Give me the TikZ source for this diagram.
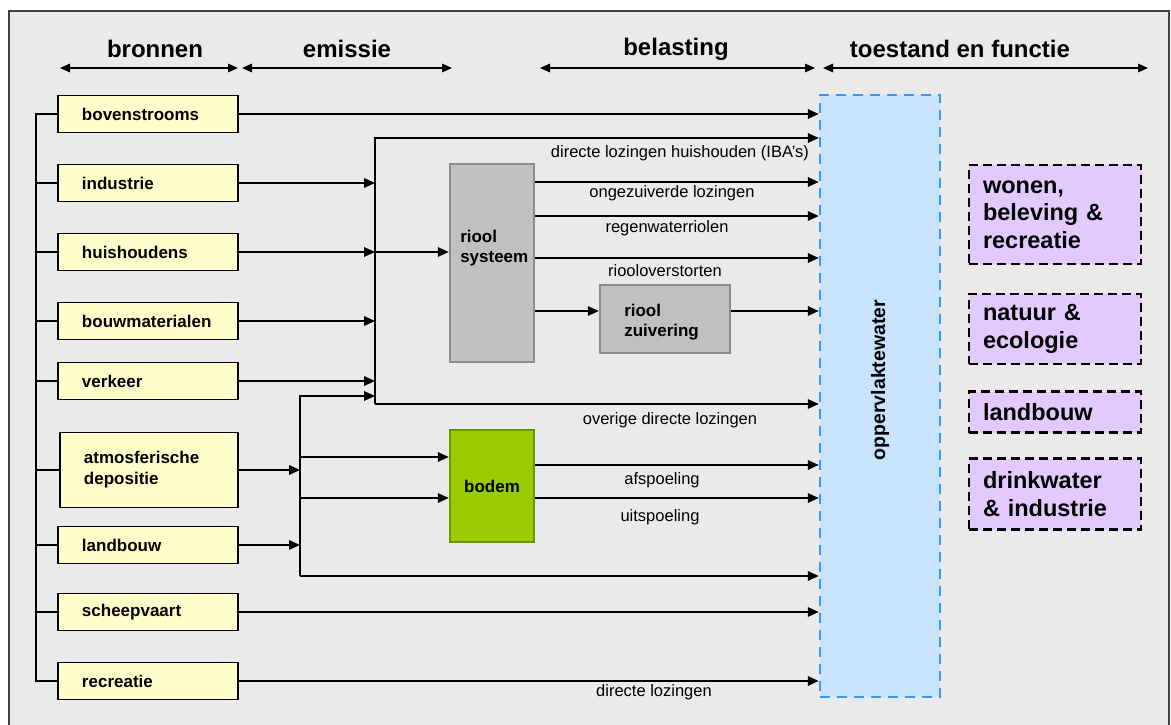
\documentclass[tikz,border=0pt]{standalone}
\usepackage{fontspec}
\setmainfont{Liberation Sans}
\usetikzlibrary{arrows.meta}
\definecolor{bgfill}{HTML}{EAEAEA}
\definecolor{srcfill}{HTML}{FFFFCC}
\definecolor{sewfill}{HTML}{C0C0C0}
\definecolor{sewdraw}{HTML}{8C8C8C}
\definecolor{soilfill}{HTML}{99CC00}
\definecolor{soildraw}{HTML}{669900}
\definecolor{waterfill}{HTML}{C8E3FD}
\definecolor{waterdraw}{HTML}{3399FF}
\definecolor{fnfill}{HTML}{E2CAFE}
\begin{document}
\begin{tikzpicture}[x=1bp,y=-1bp,
  font=\fontsize{16.5bp}{19bp}\selectfont,
  src/.style={draw=black,line width=1.8bp,fill=srcfill,minimum height=37bp,
    text width=132bp,inner xsep=24bp,inner ysep=0pt,align=left,
    font=\fontsize{17bp}{21bp}\selectfont\bfseries},
  proc/.style={line width=2.5bp,inner sep=0pt,
    font=\fontsize{17bp}{20bp}\selectfont\bfseries},
  fn/.style={draw=black,line width=2.5bp,dash pattern=on 9bp off 5bp,fill=fnfill,
    text width=144bp,inner xsep=14bp,inner ysep=0pt,align=left,
    font=\fontsize{23.5bp}{27.5bp}\selectfont\bfseries},
  head/.style={font=\fontsize{24bp}{27bp}\selectfont\bfseries},
  lbl/.style={inner sep=0pt},
  ln/.style={line width=1.8bp},
  arr/.style={line width=1.8bp,-{Triangle[length=11bp,width=9.5bp]}},
  span/.style={line width=1.5bp,{Triangle[length=10bp,width=8.5bp]}-{Triangle[length=10bp,width=8.5bp]}}
]
\useasboundingbox (0,0) rectangle (1171,725);
% panel
\fill[white] (0,0) rectangle (1171,725);
\draw[fill=bgfill,draw=black!75,line width=1.5bp] (9,11) rectangle (1169,740);

% column headings and their spans
\node[head] (hb) at (155,49) {bronnen};
\node[head] (he) at (347,49) {emissie};
\node[head] (hl) at (676,49) {belasting};
\node[head] (ht) at (960,49) {toestand en functie};
\coordinate (s1a) at (60,68);  \coordinate (s1b) at (238,68);
\coordinate (s2a) at (242,68); \coordinate (s2b) at (452,68);
\coordinate (s3a) at (540,68); \coordinate (s3b) at (815,68);
\coordinate (s4a) at (823,68); \coordinate (s4b) at (1148,68);
\draw[span] (s1a) -- (s1b);
\draw[span] (s2a) -- (s2b);
\draw[span] (s3a) -- (s3b);
\draw[span] (s4a) -- (s4b);

% sources
\node[src] (bov) at (148,114) {bovenstrooms};
\node[src] (ind) at (148,183) {industrie};
\node[src] (hh)  at (148,252) {huishoudens};
\node[src] (bm)  at (148,321) {bouwmaterialen};
\node[src] (vk)  at (148,381) {verkeer};
\node[src,minimum height=75bp,text width=130bp] (atm) at (149,470) {atmosferische\\depositie};
\node[src] (lb)  at (148,545) {landbouw};
\node[src] (sv)  at (148,612) {scheepvaart};
\node[src] (rc)  at (148,681) {recreatie};

% surface water
\node[draw=waterdraw,fill=waterfill,line width=2.5bp,dash pattern=on 10bp off 7bp,
  minimum width=120bp,minimum height=602bp,inner sep=0pt] (ow) at (880,396) {};
\node[rotate=90,font=\fontsize{19.5bp}{22bp}\selectfont\bfseries] (owt) at (880,380) {oppervlaktewater};

% sewer, treatment plant, soil
\node[proc,draw=sewdraw,fill=sewfill,minimum width=84bp,minimum height=198bp] (ri) at (492,263) {};
\node[proc,anchor=west,align=left] (rit) at (459,248) {riool\\systeem};
\node[proc,draw=sewdraw,fill=sewfill,minimum width=130bp,minimum height=68bp] (rz) at (665,319) {};
\node[proc,anchor=west,align=left] (rzt) at (623,322) {riool\\zuivering};
\node[proc,draw=soildraw,fill=soilfill,minimum width=84bp,minimum height=112bp] (bo) at (492,486) {};
\node[proc] (bot) at (492,486) {bodem};

% functions
\node[fn,minimum height=99bp] (f1) at (1055,214.5) {wonen,\\beleving \&\\recreatie};
\node[fn,minimum height=70bp] (f2) at (1055,329) {natuur \&\\ecologie};
\node[fn,minimum height=41bp] (f3) at (1055,412) {landbouw};
\node[fn,minimum height=71bp] (f4) at (1055,494) {drinkwater\\\& industrie};

% collector on the left
\coordinate (busL) at (36,0);
\draw[ln] (bov.west) -- (bov.west -| busL) -- (rc.west -| busL) -- (rc.west);
\foreach \n in {ind,hh,bm,vk,atm,lb,sv}
  \draw[ln] (\n.west) -- (\n.west -| busL);

% emission collectors
\coordinate (busA) at (375,0);
\coordinate (topA) at (375,138);
\coordinate (botA) at (375,404);
\coordinate (busB) at (300,0);
\coordinate (topB) at (300,396);
\coordinate (botB) at (300,576);
\coordinate (sb1) at (300,457);
\coordinate (sb2) at (300,498);

\draw[arr] (bov.east) -- (bov.east -| ow.west);
\draw[arr] (botA) -- (topA) -- (topA -| ow.west);
\draw[arr] (botA) -- (botA -| ow.west);
\draw[arr] (ind.east) -- (ind.east -| busA);
\draw[arr] (hh.east) -- (hh.east -| busA);
\draw[arr] (hh.east -| busA) -- (hh.east -| ri.west);
\draw[arr] (bm.east) -- (bm.east -| busA);
\draw[arr] (vk.east) -- (vk.east -| busA);

\draw[arr] (botB) -- (topB) -- (topB -| busA);
\draw[arr] (botB) -- (botB -| ow.west);
\draw[arr] (atm.east) -- (atm.east -| busB);
\draw[arr] (lb.east) -- (lb.east -| busB);
\draw[arr] (sb1) -- (sb1 -| bo.west);
\draw[arr] (sb2) -- (sb2 -| bo.west);

% loads from the sewer
\draw[arr] (ri.east |- 0,182) -- (ow.west |- 0,182);
\draw[arr] (ri.east |- 0,216) -- (ow.west |- 0,216);
\draw[arr] (ri.east |- 0,258) -- (ow.west |- 0,258);
\draw[arr] (ri.east |- 0,311) -- (rz.west |- 0,311);
\draw[arr] (rz.east |- 0,311) -- (ow.west |- 0,311);

% loads from the soil
\draw[arr] (bo.east |- 0,465) -- (ow.west |- 0,465);
\draw[arr] (bo.east |- 0,498) -- (ow.west |- 0,498);

\draw[arr] (sv.east) -- (sv.east -| ow.west);
\draw[arr] (rc.east) -- (rc.east -| ow.west);

% flow labels
\node[lbl] (l1) at (680,153) {directe lozingen huishouden (IBA’s)};
\node[lbl] (l2) at (672,193) {ongezuiverde lozingen};
\node[lbl] (l3) at (667,228) {regenwaterriolen};
\node[lbl] (l4) at (665,271) {riooloverstorten};
\node[lbl] (l5) at (670,420) {overige directe lozingen};
\node[lbl] (l6) at (662,480) {afspoeling};
\node[lbl] (l7) at (660,517) {uitspoeling};
\node[lbl] (l8) at (654,692) {directe lozingen};
\end{tikzpicture}
\end{document}
